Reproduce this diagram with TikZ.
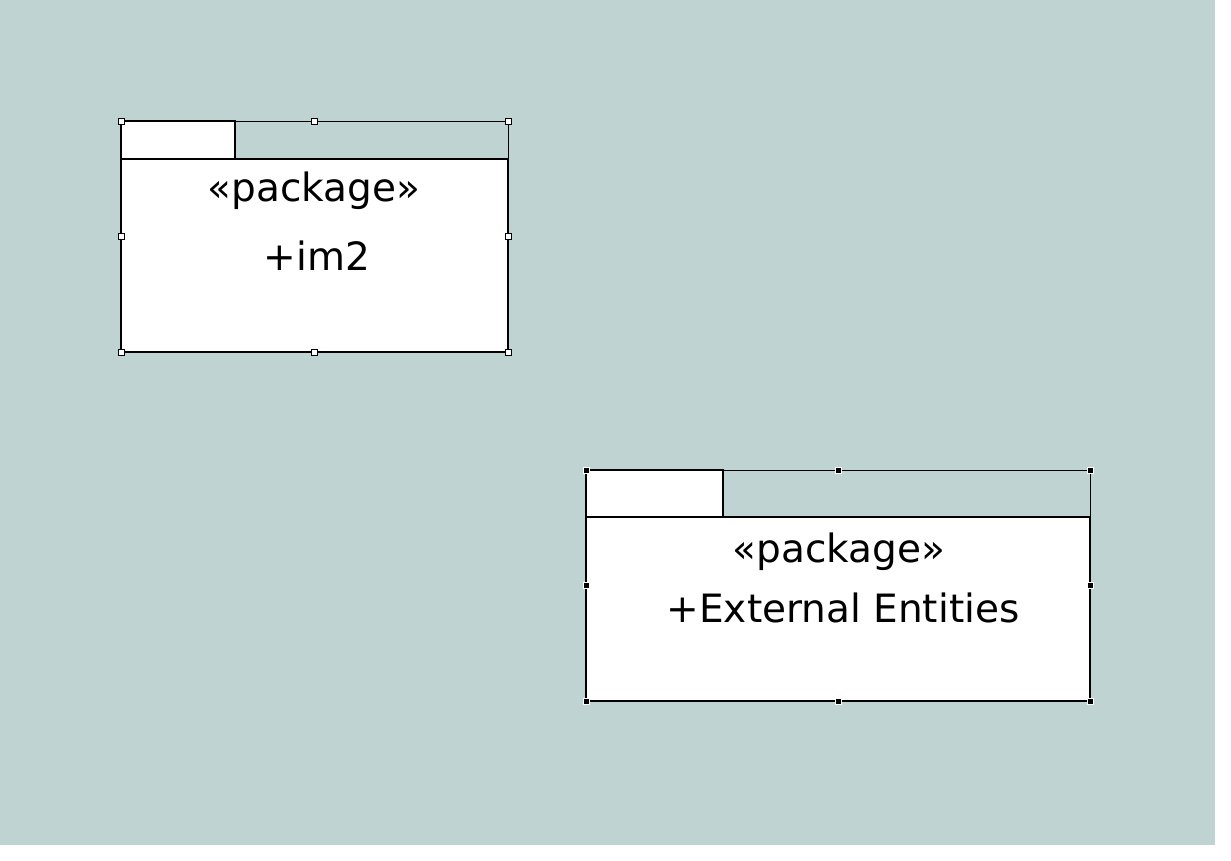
\documentclass[tikz,border=0pt]{standalone}
\usepackage{fontspec}
\setmainfont{DejaVu Sans}
\usetikzlibrary{positioning, fit}
\definecolor{canvas}{RGB}{190,211,210}
\tikzset{
    pkgbody/.style={rectangle, draw, line width=2.4pt, fill=white, inner sep=0pt, outer sep=0pt, anchor=north west},
    pkgtab/.style={rectangle, draw, line width=2.4pt, fill=white, inner sep=0pt, outer sep=0pt, anchor=south west},
    selframe/.style={rectangle, draw, line width=0.8pt, inner sep=0pt, outer sep=0pt},
    handleA/.style={rectangle, draw, fill=white, line width=0.8pt, minimum size=6pt, inner sep=0pt},
    handleB/.style={rectangle, draw=white, fill=black, line width=0.5pt, minimum size=6pt, inner sep=0pt},
    pkgtext/.style={font=\fontsize{39}{47}\selectfont, anchor=base, inner sep=0pt}
}
\begin{document}
\begin{tikzpicture}[x=1pt, y=-1pt]
        \useasboundingbox (0,0) rectangle (1231,861);
        \fill[canvas] (0,0) rectangle (1215,845);

        % Package im2
        \node (bodyA) [pkgbody, minimum width=387pt, minimum height=193pt] at (121,159) {};
        \node (tabA) [pkgtab, minimum width=114pt, minimum height=38pt] at (bodyA.north west) {};
        \node (selA) [selframe, fit=(tabA)(bodyA)] {};
        \node (stA) [pkgtext] at (314,202) {«package»};
        \node (nmA) [pkgtext] at (317,270) {+im2};
        \foreach \a/\n in {north west/nw, north/n, north east/ne, east/e, south east/se, south/s, south west/sw, west/w}
            \node (hA\n) [handleA] at (selA.\a) {};

        % Package External Entities
        \node (bodyB) [pkgbody, minimum width=504pt, minimum height=184pt] at (586,517) {};
        \node (tabB) [pkgtab, minimum width=137pt, minimum height=47pt] at (bodyB.north west) {};
        \node (selB) [selframe, fit=(tabB)(bodyB)] {};
        \node (stB) [pkgtext] at (839,562) {«package»};
        \node (nmB) [pkgtext] at (843,622) {+External Entities};
        \foreach \a/\n in {north west/nw, north/n, north east/ne, east/e, south east/se, south/s, south west/sw, west/w}
            \node (hB\n) [handleB] at (selB.\a) {};
    \end{tikzpicture}
\end{document}
